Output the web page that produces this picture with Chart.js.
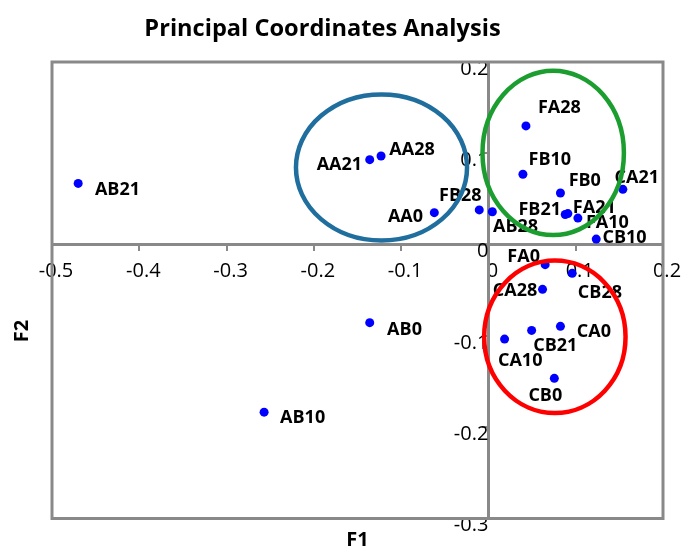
<!DOCTYPE html>
<html><head><meta charset="utf-8">
<script src="https://cdn.jsdelivr.net/npm/chart.js@4.4.1/dist/chart.umd.min.js"></script>
<style>html,body{margin:0;padding:0;background:#fff}#wrap{width:683px;height:548px;position:relative}</style>
</head><body><div id="wrap"><canvas id="c" width="683" height="548"></canvas></div>
<script>
// ---- data ----
const chartTitle = 'Principal Coordinates Analysis';
const xAxisTitle = 'F1';
const yAxisTitle = 'F2';
const sampleNames = ['AB21','AB0','AB10','AA21','AA28','AA0','FB28','AB28','FA28','FB10','FB0','CA21','FB21','FA21','FA10','CB10','FA0','CB28','CA28','CA0','CB21','CA10','CB0'];
const f1Values = [-0.470,-0.136,-0.257,-0.136,-0.123,-0.062,-0.0105,0.0045,0.043,0.0395,0.0825,0.154,0.088,0.091,0.1025,0.1235,0.065,0.096,0.062,0.0825,0.0495,0.0185,0.0755];
const f2Values = [0.067,-0.0855,-0.1835,0.093,0.097,0.035,0.038,0.036,0.130,0.077,0.0565,0.0605,0.033,0.034,0.029,0.006,-0.022,-0.0315,-0.049,-0.0895,-0.094,-0.1035,-0.1465];
const xRange = [-0.5, 0.2];
const yRange = [-0.3, 0.2];
const tickStep = 0.1;
// group ellipses (data units): centre F1, centre F2, radius F1, radius F2
const ellipseCentreF1 = [-0.1225, 0.0742, 0.0761];
const ellipseCentreF2 = [0.0845, 0.1004, -0.101];
const ellipseRadiusF1 = [0.098, 0.081, 0.081];
const ellipseRadiusF2 = [0.080, 0.090, 0.0835];

// ---- styles ----
const ellipseColors = ['#1f6e9e', '#1b9e2f', '#ff0000'];
const axisGray = '#898989';
// label placement: [textAlign, dx, dy(cap centre)]
const labelPlacement = {
  AB21:['left',16.7,5.4], AB0:['left',17.4,6], AB10:['left',16,4], AA21:['right',-7.6,4], AA28:['left',8.3,-7],
  AA0:['right',-11.3,3], FB28:['right',2.3,-15], AB28:['left',0.7,14], FA28:['left',12,-19], FB10:['left',5.6,-16],
  FB0:['left',8.2,-13.3], CA21:['center',14,-12.6], FB21:['right',-4.2,-6], FA21:['left',5,-7], FA10:['left',8,3.7],
  CB10:['left',6.2,-2.3], FA0:['right',-5.2,-8.7], CB28:['left',5.6,18.4], CA28:['right',-5.2,0.7], CA0:['left',16.4,4.6],
  CB21:['left',1.6,14.3], CA10:['left',-6.6,21], CB0:['center',-9,16.7]
};
const FONT = '"Open Sans", "DejaVu Sans", sans-serif';

const zeroPad = s => { s.paddingLeft = 0; s.paddingRight = 0; s.paddingTop = 0; s.paddingBottom = 0; };
const fmt = v => { const r = Math.round(v * 10) / 10; return (r === 0 ? 0 : r).toString(); };

const decor = {
  id: 'decor',
  beforeDatasetsDraw(chart) {
    const {ctx, chartArea: a} = chart;
    ctx.save();
    ctx.strokeStyle = axisGray; ctx.lineWidth = 3;
    ctx.strokeRect(a.left, a.top, a.right - a.left, a.bottom - a.top);
    ctx.restore();
  },
  afterDatasetsDraw(chart) {
    const {ctx} = chart;
    const meta = chart.getDatasetMeta(0);
    ctx.save();
    ctx.fillStyle = '#000';
    ctx.font = 'bold 18px ' + FONT;
    ctx.textBaseline = 'alphabetic';
    meta.data.forEach((pt, i) => {
      const name = sampleNames[i];
      const p = labelPlacement[name] || ['left', 8, 4];
      ctx.textAlign = p[0];
      ctx.fillText(name, pt.x + p[1], pt.y + p[2] + 6.4);
    });
    // ellipses
    const xs = chart.scales.x, ys = chart.scales.y;
    ellipseCentreF1.forEach((cx, i) => {
      const px = xs.getPixelForValue(cx), py = ys.getPixelForValue(ellipseCentreF2[i]);
      const rx = Math.abs(xs.getPixelForValue(cx + ellipseRadiusF1[i]) - px);
      const ry = Math.abs(ys.getPixelForValue(ellipseCentreF2[i] + ellipseRadiusF2[i]) - py);
      ctx.beginPath();
      ctx.ellipse(px, py, rx, ry, 0, 0, Math.PI * 2);
      ctx.strokeStyle = ellipseColors[i]; ctx.lineWidth = 4.5;
      ctx.stroke();
    });
    // titles
    ctx.textAlign = 'center';
    ctx.textBaseline = 'middle';
    ctx.font = 'bold 23.6px ' + FONT;
    ctx.fillText(chartTitle, 322.5, 29);
    ctx.font = 'bold 20px ' + FONT;
    ctx.fillText(xAxisTitle, (chart.chartArea.left + chart.chartArea.right) / 2, 540);
    ctx.translate(22, 331);
    ctx.rotate(-Math.PI / 2);
    ctx.fillText(yAxisTitle, 0, 0);
    ctx.restore();
  }
};

new Chart(document.getElementById('c'), {
  type: 'scatter',
  data: {
    datasets: [{
      data: sampleNames.map((n, i) => ({x: f1Values[i], y: f2Values[i]})),
      backgroundColor: '#0000ff',
      borderWidth: 0,
      pointRadius: 4.5,
      pointHoverRadius: 4.5
    }]
  },
  options: {
    responsive: false,
    animation: false,
    devicePixelRatio: 1,
    layout: {padding: {left: 52, right: 20, top: 62, bottom: 29.5}},
    plugins: {legend: {display: false}, title: {display: false}, tooltip: {enabled: false}},
    scales: {
      x: {
        type: 'linear', position: {y: 0}, min: xRange[0], max: xRange[1],
        afterFit: zeroPad,
        ticks: {stepSize: tickStep, color: '#000', font: {family: FONT, size: 20}, padding: 10, labelOffset: 4, maxRotation: 0, callback: fmt, autoSkip: false},
        grid: {display: true, drawOnChartArea: false, drawTicks: true, tickLength: 5, color: axisGray, lineWidth: 2},
        border: {display: true, color: axisGray, width: 3}
      },
      y: {
        type: 'linear', position: {x: 0}, min: yRange[0], max: yRange[1],
        afterFit: zeroPad,
        ticks: {stepSize: tickStep, color: '#000', font: {family: FONT, size: 20}, padding: 1, labelOffset: 7, callback: fmt, autoSkip: false},
        grid: {display: true, drawOnChartArea: false, drawTicks: true, tickLength: 5, color: axisGray, lineWidth: 2},
        border: {display: true, color: axisGray, width: 3}
      }
    }
  },
  plugins: [decor]
});
</script></body></html>
